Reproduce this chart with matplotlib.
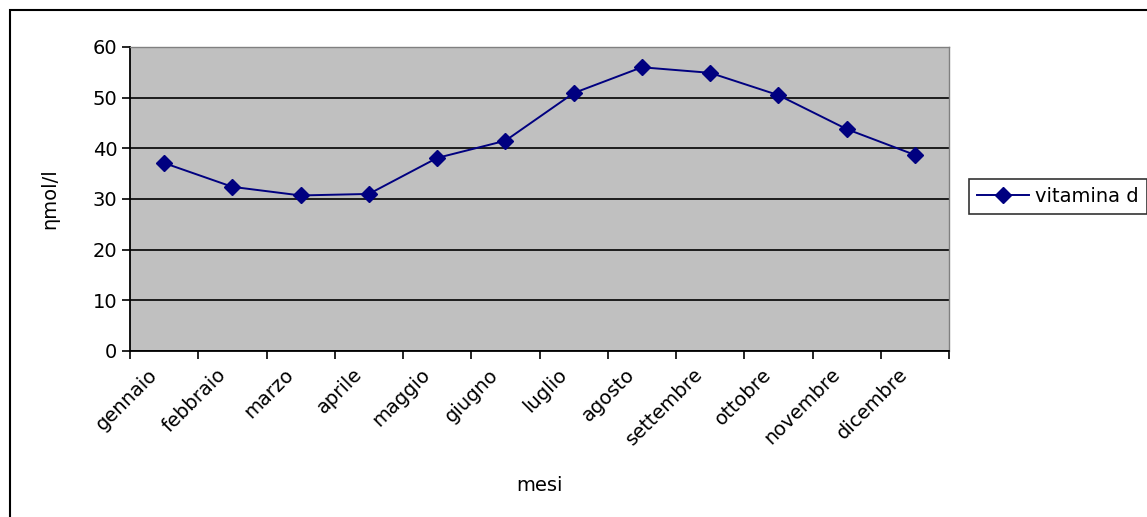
import matplotlib
matplotlib.use("Agg")
import matplotlib.pyplot as plt
from matplotlib.patches import Rectangle
import numpy as np

# ----------------------------------------------------------------------
# Data
# ----------------------------------------------------------------------

MESI = ["gennaio", "febbraio", "marzo", "aprile", "maggio", "giugno",
        "luglio", "agosto", "settembre", "ottobre", "novembre", "dicembre"]
VITAMINA_D = [37.1, 32.4, 30.7, 31.0, 38.1, 41.5,
              50.9, 56.0, 54.9, 50.5, 43.8, 38.7]
Y_TICKS = [0, 10, 20, 30, 40, 50, 60]

plt.rcParams["font.family"] = ["DejaVu Sans"]
FS = 14
W, H = 1147, 517

fig = plt.figure(figsize=(W / 100, H / 100), dpi=100)
ax = fig.add_axes([130 / W, 1 - 351 / H, (949 - 130) / W, (351 - 47) / H])
ax.set_facecolor("#c0c0c0")

x = np.arange(len(MESI)) + 0.5
ax.plot(x, VITAMINA_D, "-D", color="#000080", linewidth=1.4,
        markersize=8, label="vitamina d", zorder=3)

ax.set_xlim(0, len(MESI))
ax.set_ylim(0, 60)
ax.set_yticks(Y_TICKS)
ax.set_yticklabels([str(t) for t in Y_TICKS], fontsize=FS)
ax.set_xticks(np.arange(len(MESI) + 1))
ax.set_xticklabels([])
# month labels sit as invisible minor ticks, slightly left of each centre
ax.set_xticks(x - 0.24, minor=True)
ax.set_xticklabels(MESI, minor=True, rotation=45, ha="right",
                   rotation_mode="anchor", fontsize=FS)
ax.tick_params(axis="x", which="minor", length=0, pad=10)
ax.tick_params(axis="x", which="major", direction="out", length=5.5, width=1.2)
ax.tick_params(axis="y", direction="out", length=6, width=1.2, pad=3)

ax.grid(axis="y", color="black", linewidth=1.2)
ax.set_axisbelow(True)
for side in ("left", "bottom"):
    ax.spines[side].set_color("black")
    ax.spines[side].set_linewidth(1.3)
for side in ("top", "right"):
    ax.spines[side].set_color("#808080")
    ax.spines[side].set_linewidth(1.0)

ax.set_ylabel("ηmol/l", fontsize=FS, labelpad=24)
ax.set_xlabel("mesi", fontsize=FS, labelpad=19)

leg = fig.legend(loc="upper left", bbox_to_anchor=(969 / W, 1 - 179 / H),
                 fontsize=FS, frameon=True, fancybox=False,
                 edgecolor="black", handlelength=2.7, borderpad=0.4,
                 handletextpad=0.3, borderaxespad=0)
leg.get_frame().set_linewidth(1.2)

# outer chart border
fig.patches.append(Rectangle((10 / W, -0.1), 1.2, 1.1 - 10 / H,
                             transform=fig.transFigure, fill=False,
                             edgecolor="black", linewidth=1.5))

fig.savefig("out.png", dpi=100)
